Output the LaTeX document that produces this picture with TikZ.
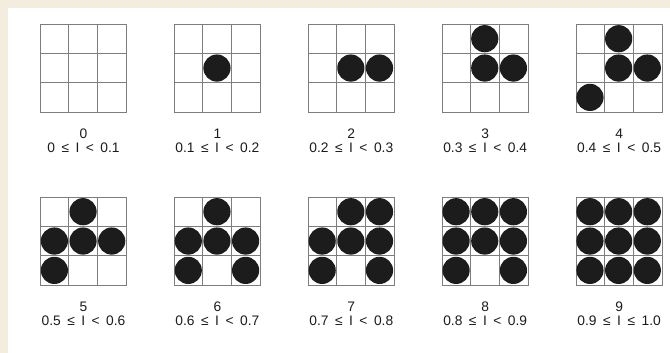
\documentclass[tikz,border=0pt]{standalone}
\usepackage{fontspec}
\setmainfont{Liberation Sans}
\usetikzlibrary{positioning}
\definecolor{paper}{RGB}{243,236,223}
\definecolor{gridgray}{RGB}{125,125,125}
\definecolor{ink}{RGB}{28,28,28}
\newcommand{\gap}{\hspace{6.5pt}}

\begin{document}
\begin{tikzpicture}[x=1pt,y=-1pt,
  frame/.style={draw=gridgray,line width=0.9pt,minimum width=86pt,minimum height=88pt,inner sep=0pt},
  cellline/.style={draw=gridgray,line width=0.9pt},
  dot/.style={fill=ink},
  lbl/.style={font=\fontsize{13.8}{15}\selectfont,text=ink,inner sep=0pt,text height=9.9pt,text depth=0pt}
]
\useasboundingbox (0,0) rectangle (670,353);
\fill[paper] (0,0) rectangle (670,353);
\fill[white] (8,8) rectangle (670,353);

% one 3x3 pattern per level; cells numbered row by row from top left
\foreach \i/\cells/\rng [evaluate=\i as \cx using {83.5+133.9*mod(\i,5)},
                         evaluate=\i as \cy using {68.5+173*int(\i/5)}] in {
  0/{-1}/{0\gap≤\gap I\gap<\gap0.1},
  1/{4}/{0.1\gap≤\gap I\gap<\gap0.2},
  2/{4,5}/{0.2\gap≤\gap I\gap<\gap0.3},
  3/{1,4,5}/{0.3\gap≤\gap I\gap<\gap0.4},
  4/{1,4,5,6}/{0.4\gap≤\gap I\gap<\gap0.5},
  5/{1,3,4,5,6}/{0.5\gap≤\gap I\gap<\gap0.6},
  6/{1,3,4,5,6,8}/{0.6\gap≤\gap I\gap<\gap0.7},
  7/{1,2,3,4,5,6,8}/{0.7\gap≤\gap I\gap<\gap0.8},
  8/{0,1,2,3,4,5,6,8}/{0.8\gap≤\gap I\gap<\gap0.9},
  9/{0,1,2,3,4,5,6,7,8}/{0.9\gap≤\gap I\gap≤\gap1.0}} {
  \node[frame] (g\i) at (\cx,\cy) {};
  \begin{scope}[shift={(g\i.north west)},x=28.667pt,y=-29.333pt]
    \draw[cellline] (1,0) -- (1,3) (2,0) -- (2,3) (0,1) -- (3,1) (0,2) -- (3,2);
    \foreach \c in \cells {
      \ifnum\c>-1
        \fill[dot] ({mod(\c,3)+0.5},{int(\c/3)+0.5}) circle[radius=13.6pt];
      \fi
    }
  \end{scope}
  \node[lbl,below=15.5pt of g\i] (n\i) {\i};
  \node[lbl,below=3.5pt of n\i] (r\i) {\rng};
}
\end{tikzpicture}
\end{document}
